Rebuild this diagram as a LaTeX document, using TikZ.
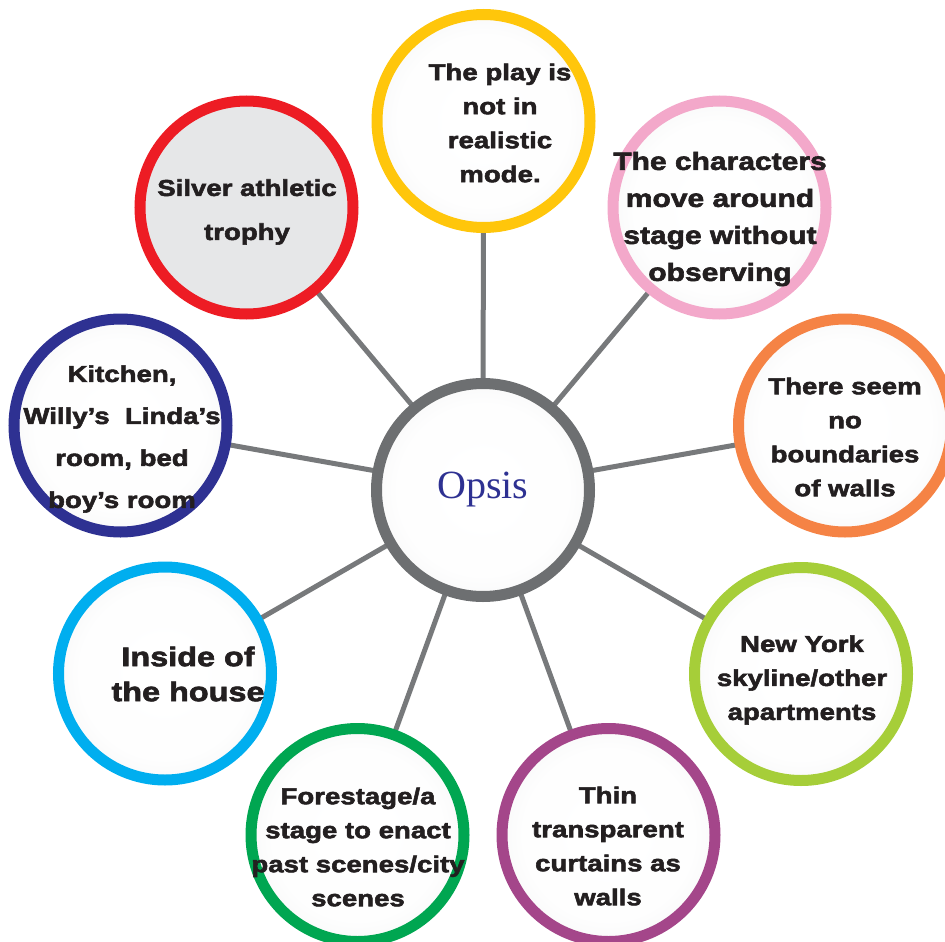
\documentclass[tikz,border=0pt]{standalone}
\usepackage{fontspec}
\newfontfamily\heavy{Liberation Sans}[BoldFeatures={FakeBold=2.4,FakeStretch=1.2}]
\newfontfamily\serifo{Liberation Serif}
\definecolor{ringyellow}{HTML}{FFC60B}
\definecolor{ringpink}{HTML}{F3A8CA}
\definecolor{ringorange}{HTML}{F58345}
\definecolor{ringlgreen}{HTML}{A6CE39}
\definecolor{ringpurple}{HTML}{A4468A}
\definecolor{ringgreen}{HTML}{00A651}
\definecolor{ringlblue}{HTML}{00AEEF}
\definecolor{ringnavy}{HTML}{2E3192}
\definecolor{ringred}{HTML}{ED1C24}
\definecolor{ringgray}{HTML}{6D6F71}
\definecolor{linkgray}{HTML}{77797B}
\definecolor{fillgray}{HTML}{E6E7E8}
\definecolor{opsisblue}{HTML}{2E3192}
\definecolor{txt}{HTML}{231F20}
\pgfdeclareradialshading{ballshade}{\pgfpoint{0bp}{0bp}}{color(0bp)=(white); color(20bp)=(white!96!fillgray); color(46bp)=(fillgray); color(50bp)=(fillgray)}
\tikzset{
  ball/.style={circle, draw=#1, line width=11pt, minimum size=213pt, inner sep=0pt, shading=ballshade},
  flatball/.style={circle, draw=#1, line width=11pt, minimum size=213pt, inner sep=0pt, fill=fillgray},
  link/.style={draw=linkgray, line width=5pt},
  lbl/.style={align=center, text=txt, inner sep=0pt, font={\heavy\bfseries\fontsize{23}{#1}\selectfont}},
}
\begin{document}
\begin{tikzpicture}[x=1pt,y=-1pt]
\useasboundingbox (0,0) rectangle (945,942);
% circle positions
\coordinate (pc) at (483,490);
\coordinate (p1) at (483.5,121);
\coordinate (p2) at (719.5,207.5);
\coordinate (p3) at (845,425.5);
\coordinate (p4) at (801,674);
\coordinate (p5) at (608.5,835);
\coordinate (p6) at (357.5,835);
\coordinate (p7) at (165,673.5);
\coordinate (p8) at (120.5,425.5);
\coordinate (p9) at (246.5,207.5);
% connectors
\foreach \i in {1,...,9} { \draw[link] (pc) -- (p\i); }
% circles
\node[ball=ringgray] (c) at (pc) {};
\node[ball=ringyellow] (n1) at (p1) {};
\node[ball=ringpink] (n2) at (p2) {};
\node[ball=ringorange] (n3) at (p3) {};
\node[ball=ringlgreen] (n4) at (p4) {};
\node[ball=ringpurple] (n5) at (p5) {};
\node[ball=ringgreen] (n6) at (p6) {};
\node[ball=ringlblue] (n7) at (p7) {};
\node[ball=ringnavy] (n8) at (p8) {};
\node[flatball=ringred] (n9) at (p9) {};
% texts
\node[text=opsisblue, font={\serifo\fontsize{40}{44}\selectfont}] (tc) at (483,490) {Opsis};
\node[lbl=34] (t1) at (500,123) {The play is\\not in\\realistic\\mode.};
\node[lbl=37, font={\heavy\bfseries\fontsize{25}{37}\selectfont}] (t2) at (720,219) {The characters\\move around\\stage without\\observing};
\node[lbl=34] (t3) at (845,437) {There seem\\no\\boundaries\\of walls};
\node[lbl=34] (t4) at (802,680) {New York\\skyline/other\\apartments};
\node[lbl=34] (t5) at (608,846) {Thin\\transparent\\curtains as\\walls};
\node[lbl=34] (t6) at (358,847) {Forestage/a\\stage to enact\\past scenes/city\\scenes};
\node[lbl=35, font={\heavy\bfseries\fontsize{27}{35}\selectfont}] (t7) at (188,674) {Inside of\\the house};
\node[lbl=42] (t8) at (122,439) {Kitchen,\\Willy’s\ \ Linda’s\\room, bed\\boy’s room};
\node[lbl=44] (t9) at (247,212) {Silver athletic\\trophy};
\end{tikzpicture}
\end{document}
